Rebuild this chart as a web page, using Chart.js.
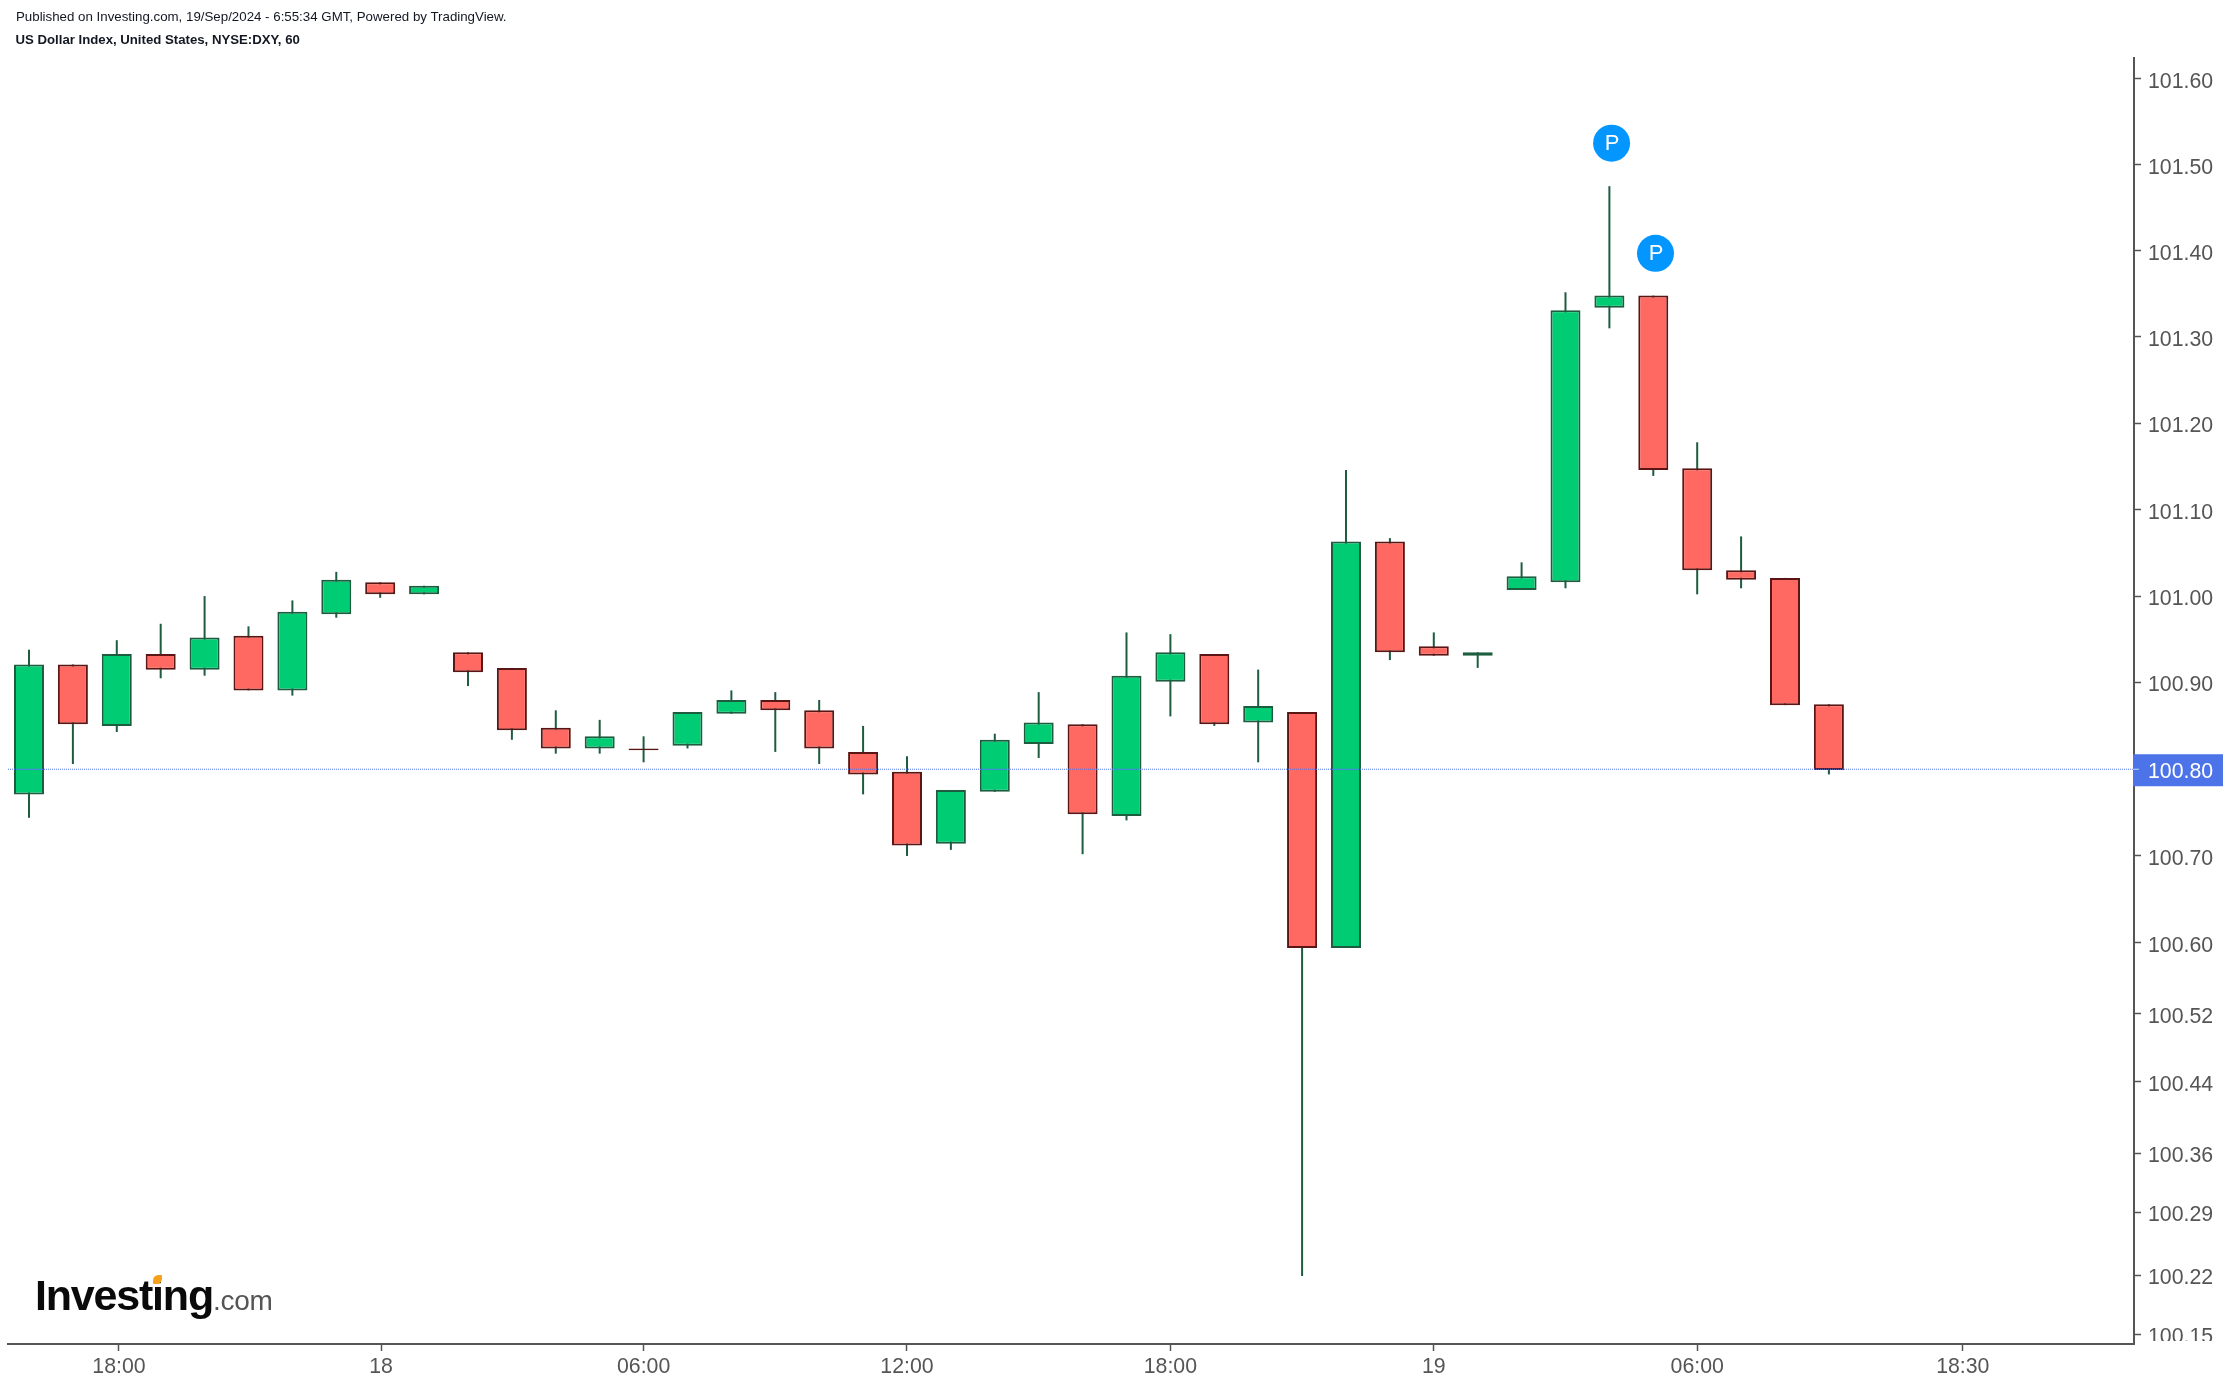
<!DOCTYPE html>
<html>
<head>
<meta charset="utf-8">
<title>US Dollar Index</title>
<script src="https://cdn.jsdelivr.net/npm/chart.js@4"></script>
<style>
  html, body { margin: 0; padding: 0; background: #fff; }
  body { width: 2230px; height: 1386px; position: relative; overflow: hidden; font-family: "Liberation Sans", Arial, sans-serif; }
  canvas { position: absolute; left: 0; top: 0; }
  .head { position: absolute; left: 16px; white-space: nowrap; color: #131722; font-size: 13.3px; line-height: 16px; }
  #published { top: 9px; }
  #symbol { top: 32px; font-weight: bold; left: 15.5px; font-size: 13.2px; }
  #logo { position: absolute; left: 35px; top: 1270px; white-space: nowrap; line-height: 50px; color: #0a0a0a; font-size: 43px; font-weight: bold; letter-spacing: -1.2px; }
  #logo span { font-size: 28px; font-weight: normal; color: #555; letter-spacing: -0.3px; }
  #leaf { position: absolute; left: 153px; top: 1275px; width: 9px; height: 9px; background: #f7a11a; border-radius: 60% 10% 60% 10%; }
</style>
</head>
<body>
<canvas id="chart" width="2230" height="1386"></canvas>
<div class="head" id="published">Published on Investing.com, 19/Sep/2024 - 6:55:34 GMT, Powered by TradingView.</div>
<div class="head" id="symbol">US Dollar Index, United States, NYSE:DXY, 60</div>
<div id="logo">Investing<span>.com</span></div>
<div id="leaf"></div>
<script>
// hourly candles
const open = [100.771, 100.921, 100.850, 100.933, 100.915, 100.954, 100.891, 100.979, 101.016, 101.002, 100.935, 100.917, 100.848, 100.824, 100.824, 100.827, 100.864, 100.880, 100.868, 100.820, 100.797, 100.714, 100.774, 100.829, 100.852, 100.746, 100.901, 100.933, 100.854, 100.866, 100.594, 101.063, 100.942, 100.931, 101.007, 101.016, 101.334, 101.348, 101.148, 101.030, 101.021, 100.875];
const close = [100.921, 100.852, 100.933, 100.915, 100.952, 100.891, 100.982, 101.019, 101.002, 101.012, 100.912, 100.845, 100.824, 100.838, 100.822, 100.866, 100.880, 100.868, 100.824, 100.794, 100.712, 100.776, 100.834, 100.854, 100.748, 100.908, 100.935, 100.852, 100.873, 100.594, 101.063, 100.935, 100.931, 100.935, 101.023, 101.331, 101.348, 101.146, 101.030, 101.019, 100.874, 100.799];
const high = [100.938, 100.921, 100.949, 100.968, 101.000, 100.965, 100.995, 101.028, 101.016, 101.012, 100.935, 100.917, 100.868, 100.857, 100.838, 100.866, 100.891, 100.889, 100.880, 100.850, 100.815, 100.776, 100.841, 100.889, 100.852, 100.958, 100.956, 100.933, 100.915, 100.866, 101.146, 101.067, 100.958, 100.935, 101.039, 101.352, 101.475, 101.348, 101.178, 101.069, 101.021, 100.875];
const low = [100.744, 100.806, 100.843, 100.905, 100.908, 100.891, 100.885, 100.975, 100.998, 101.002, 100.896, 100.834, 100.818, 100.818, 100.808, 100.824, 100.864, 100.820, 100.806, 100.771, 100.700, 100.707, 100.774, 100.813, 100.702, 100.741, 100.861, 100.850, 100.808, 100.217, 100.594, 100.926, 100.931, 100.917, 101.007, 101.009, 101.310, 101.139, 101.002, 101.009, 100.874, 100.794];

const priceTicks = [101.6, 101.5, 101.4, 101.3, 101.2, 101.1, 101.0, 100.9, 100.8, 100.7, 100.6, 100.518, 100.44, 100.358, 100.29, 100.218, 100.15];
const timeTicks = [2.05, 8.02, 14, 20, 26, 32, 38, 44.05];
const timeLabels = ["18:00", "18", "06:00", "12:00", "18:00", "19", "06:00", "18:30"];

const lastPrice = 100.8;
const flagX = [36, 37];
const flagY = [101.525, 101.397];

const xMin = -0.478, xMax = 47.95;
const axisColor = "#555555";
const tickFont = { family: "'Liberation Sans', Arial, sans-serif", size: 21.3 };

const isUp = close.map((c, i) => c >= open[i]);
const bodyColor = isUp.map(u => (u ? "#00cc74" : "#ff6961"));
const edgeColor = isUp.map(u => (u ? "#1e5c3f" : "#5a1515"));

const overlay = {
  id: "overlay",
  afterDraw(chart) {
    const { ctx, scales } = chart;
    const y = scales.y.getPixelForValue(lastPrice);
    ctx.save();
    // the lowest label is cut off by the bottom of the pane
    ctx.fillStyle = "#fff";
    ctx.fillRect(2144, 1341, 86, 14);
    // last price tag
    ctx.fillStyle = "#4c74e8";
    ctx.fillRect(2133, y - 15, 90, 32);
    ctx.fillStyle = "#c9d5f8";
    ctx.fillRect(2133, y - 0.5, 6, 1);
    ctx.fillStyle = "#fff";
    ctx.font = "21.3px 'Liberation Sans', Arial, sans-serif";
    ctx.textBaseline = "middle";
    ctx.fillText(lastPrice.toFixed(2), 2148, y + 3);
    // letters inside the flags
    const meta = chart.getDatasetMeta(2);
    ctx.textAlign = "center";
    ctx.font = "22px 'Liberation Sans', Arial, sans-serif";
    meta.data.forEach(p => ctx.fillText("P", p.x + 0.5, p.y + 1));
    ctx.restore();
  },
};

new Chart(document.getElementById("chart"), {
  type: "bar",
  data: {
    datasets: [
      {
        label: "wick",
        data: high.map((h, i) => ({ x: i, y: [low[i], h] })),
        backgroundColor: "#1e5c3f",
        borderWidth: 0,
        maxBarThickness: 2,
        grouped: false,
        order: 4,
      },
      {
        label: "body",
        data: open.map((o, i) => ({ x: i, y: [o, close[i]] })),
        backgroundColor: bodyColor,
        borderColor: edgeColor,
        borderWidth: 2,
        borderSkipped: false,
        maxBarThickness: 30,
        grouped: false,
        order: 3,
      },
      {
        type: "line",
        label: "flags",
        data: flagX.map((x, i) => ({ x: x + 0.05, y: flagY[i] })),
        showLine: false,
        pointRadius: 18.5,
        pointBackgroundColor: "#0496ff",
        pointBorderWidth: 0,
        order: 2,
      },
      {
        type: "line",
        label: "last",
        data: [{ x: xMin, y: lastPrice }, { x: xMax, y: lastPrice }],
        borderColor: "#4c74e8",
        borderWidth: 1,
        borderDash: [1, 1],
        pointRadius: 0,
        order: 1,
      },
    ],
  },
  options: {
    responsive: false,
    animation: false,
    devicePixelRatio: 1,
    layout: { autoPadding: false, padding: { left: 8, top: 58, right: 0, bottom: 0 } },
    plugins: { legend: { display: false }, tooltip: { enabled: false } },
    scales: {
      x: {
        type: "linear",
        offset: false,
        min: xMin,
        max: xMax,
        afterFit(s) { s.height = 42; s.paddingLeft = 0; s.paddingRight = 0; },
        afterBuildTicks(s) { s.ticks = timeTicks.map(v => ({ value: v })); },
        border: { color: axisColor, width: 2 },
        grid: { offset: false, drawOnChartArea: false, tickLength: 7, tickColor: axisColor, tickWidth: 1.5 },
        ticks: {
          autoSkip: false,
          maxRotation: 0,
          padding: 3,
          color: axisColor,
          font: tickFont,
          callback: (v, i) => timeLabels[i],
        },
      },
      y: {
        type: "logarithmic",
        position: "right",
        min: 100.139,
        max: 101.624,
        afterFit(s) { s.width = 96; s.paddingTop = 0; s.paddingBottom = 0; },
        afterBuildTicks(s) { s.ticks = priceTicks.map(v => ({ value: v })); },
        border: { color: axisColor, width: 2 },
        grid: { drawOnChartArea: false, tickLength: 7, tickColor: axisColor, tickWidth: 1.5 },
        ticks: {
          autoSkip: false,
          padding: 7,
          labelOffset: 3,
          color: axisColor,
          font: tickFont,
          callback: v => Number(v).toFixed(2),
        },
      },
    },
  },
  plugins: [overlay],
});
</script>
</body>
</html>
